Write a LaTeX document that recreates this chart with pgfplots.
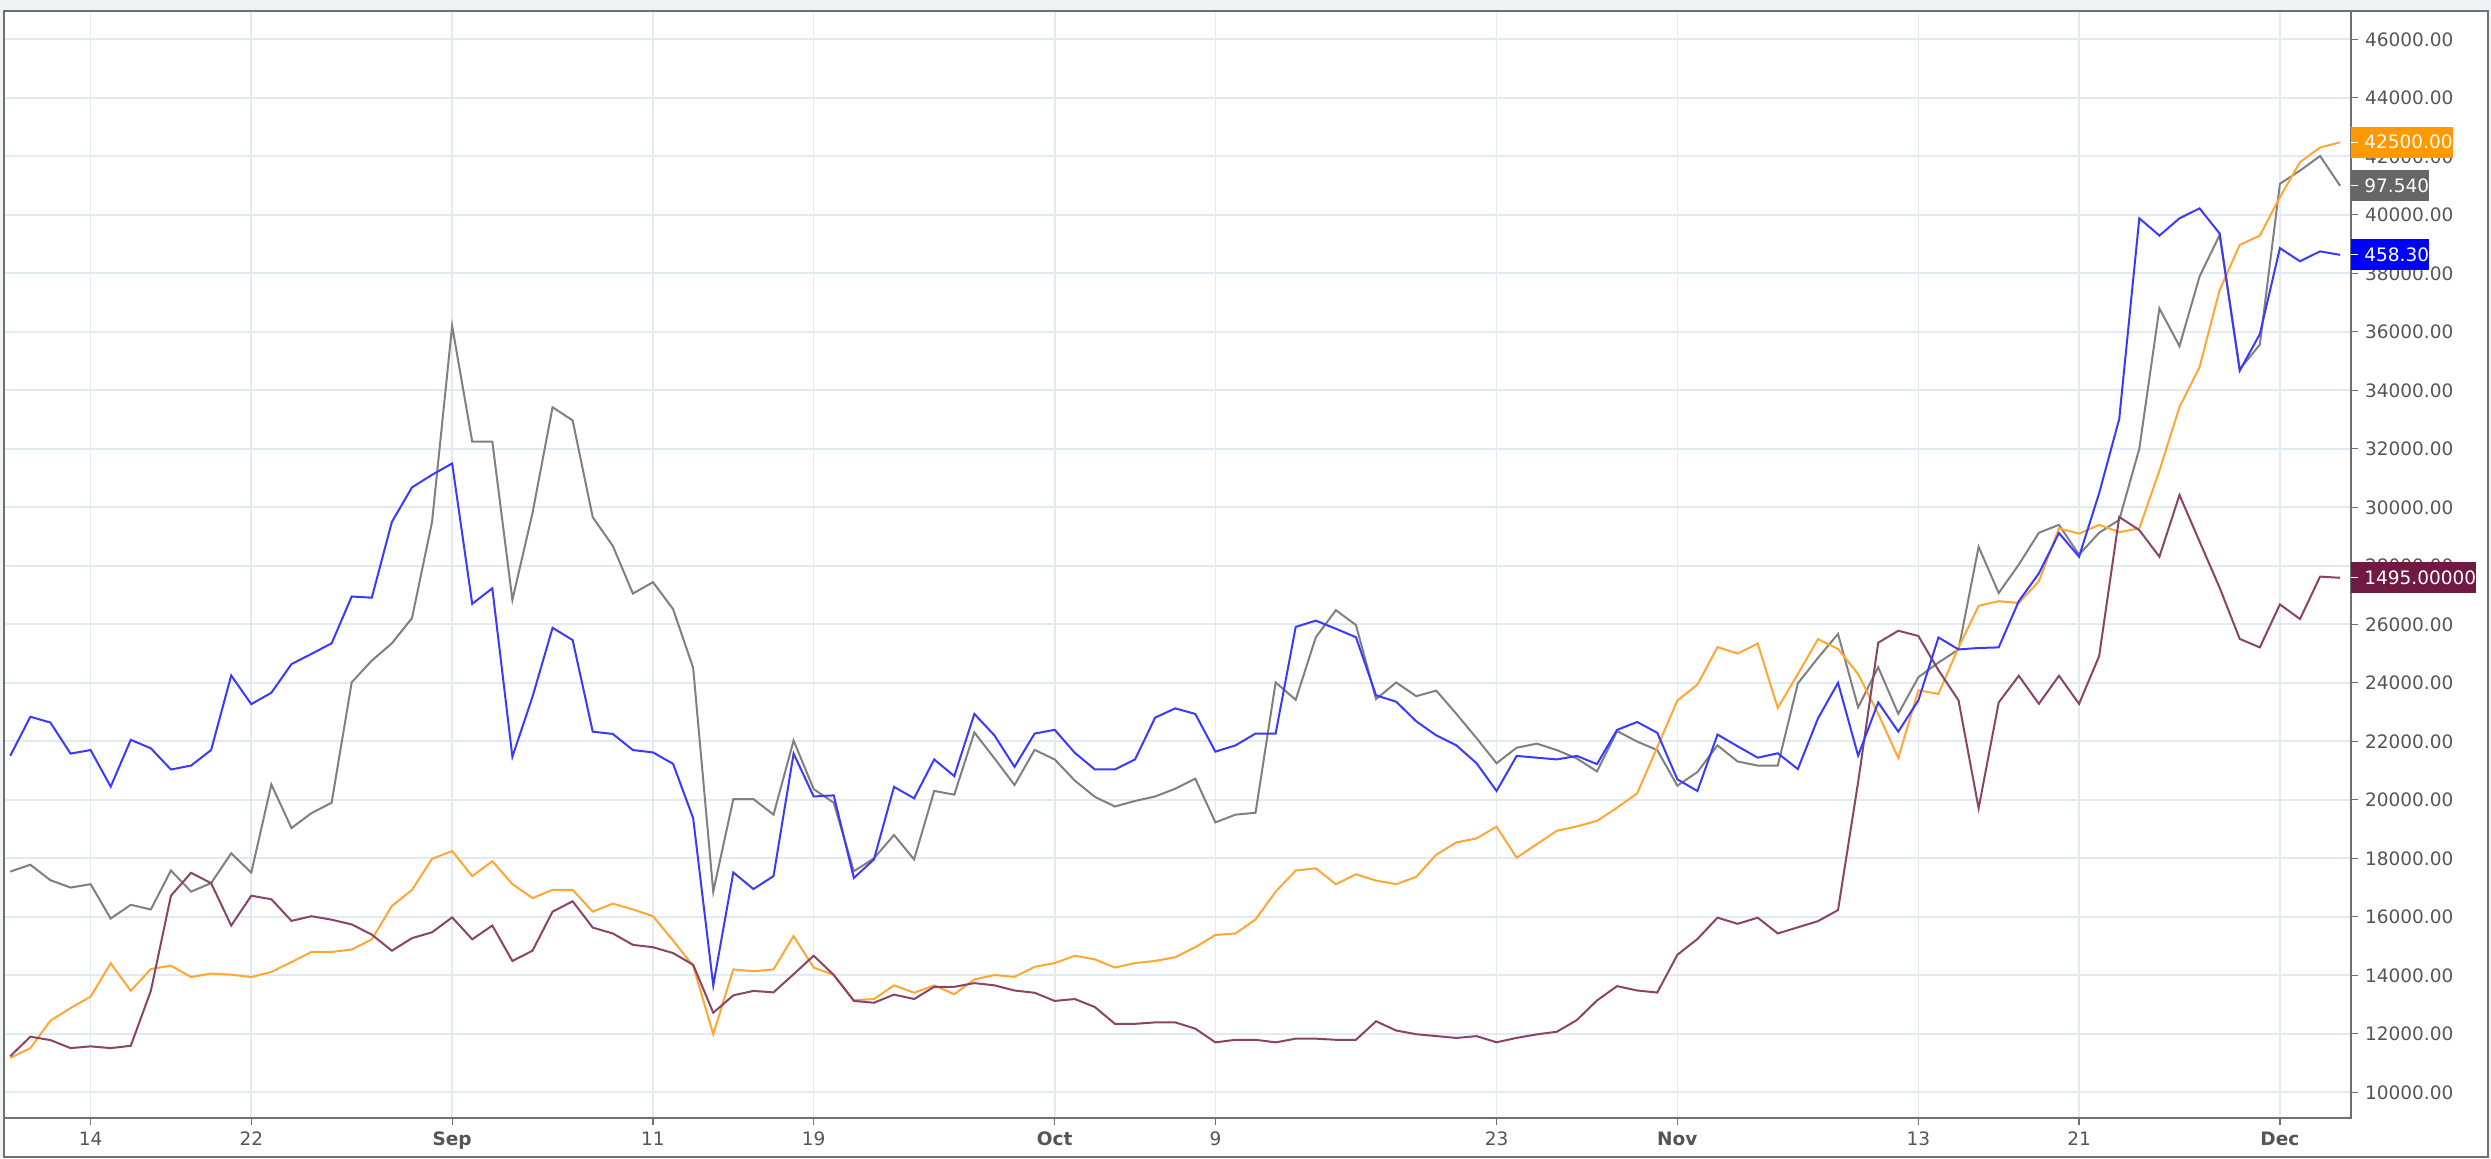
\documentclass[border=0pt]{standalone}
\usepackage{fontspec}
\setmainfont{DejaVu Sans}
\usepackage{pgfplots}
\usepackage{pgfplotstable}
\pgfplotsset{compat=1.18}
\definecolor{cblue}{HTML}{3A3AFF}
\definecolor{cgrey}{HTML}{808080}
\definecolor{corange}{HTML}{FFA733}
\definecolor{cmaroon}{HTML}{8A4468}
\definecolor{gridc}{HTML}{E2EAF2}
\definecolor{framec}{HTML}{707070}
\definecolor{labc}{HTML}{555555}
\definecolor{bgc}{HTML}{F0F3F6}
\definecolor{borange}{HTML}{FF9900}
\definecolor{bgrey}{HTML}{666666}
\definecolor{bblue}{HTML}{0000FF}
\definecolor{bmaroon}{HTML}{701A43}

\pgfplotstableread{
d blue grey orange maroon
9 21505 17546 11176 11235
10 22840 17780 11510 11900
11 22640 17250 12450 11785
12 21580 17000 12880 11510
13 21700 17115 13270 11570
14 20450 15940 14410 11510
15 22050 16410 13470 11590
16 21760 16250 14215 13470
17 21035 17585 14330 16720
18 21170 16860 13940 17505
19 21700 17150 14060 17150
20 24250 18170 14020 15700
21 23270 17510 13940 16720
22 23660 20525 14115 16600
23 24640 19035 14450 15860
24 24990 19545 14800 16020
25 25350 19900 14800 15900
26 26950 24015 14880 15740
27 26910 24760 15230 15390
28 29500 25350 16370 14840
29 30680 26210 16920 15270
30 31110 29500 17980 15470
31 31500 36205 18250 15980
32 26700 32245 17390 15230
33 27230 32245 17900 15700
34 21470 26835 17115 14490
35 23520 29800 16640 14840
36 25880 33420 16920 16175
37 25460 32970 16920 16530
38 22330 29660 16175 15630
39 22250 28680 16450 15430
40 21700 27050 16250 15040
41 21620 27440 16020 14960
42 21230 26520 15190 14760
43 19370 24510 14320 14360
44 13656 16859 11985 12719
45 17517 20024 14201 13314
46 16948 20024 14138 13466
47 17391 19492 14201 13416
48 21581 22024 15340 14036
49 20113 20366 14264 14669
50 20151 19898 14011 14011
51 17328 17556 13150 13124
52 17960 17999 13188 13061
53 20442 18796 13656 13340
54 20050 17961 13403 13188
55 21379 20303 13656 13606
56 20809 20176 13352 13606
57 22936 22303 13858 13732
58 22202 21417 14011 13656
59 21126 20505 13947 13479
60 22265 21708 14289 13403
61 22392 21379 14416 13124
62 21607 20657 14669 13188
63 21037 20100 14543 12915
64 21037 19771 14264 12340
65 21379 19961 14416 12340
66 22809 20113 14492 12390
67 23126 20379 14618 12390
68 22936 20721 14960 12175
69 21645 19227 15378 11707
70 21860 19492 15429 11795
71 22265 19556 15910 11795
72 22265 24012 16859 11707
73 25911 23417 17581 11833
74 26126 25557 17657 11833
75 25847 26481 17113 11795
76 25557 25974 17454 11795
77 23569 23442 17239 12428
78 23354 24012 17113 12112
79 22683 23543 17366 11985
80 22202 23733 18125 11922
81 21860 22936 18543 11858
82 21252 22110 18680 11920
83 20300 21250 19080 11710
84 21500 21780 18020 11860
85 21440 21920 18480 11980
86 21380 21700 18940 12070
87 21500 21410 19090 12470
88 21220 20970 19280 13140
89 22390 22350 19730 13630
90 22660 21990 20220 13480
91 22290 21700 21800 13410
92 20700 20480 23390 14700
93 20300 20950 23940 15240
94 22230 21860 25220 15970
95 21830 21310 25000 15760
96 21440 21170 25340 15970
97 21590 21170 23140 15430
98 21050 23980 24300 15640
99 22780 24850 25490 15850
100 24000 25670 25160 16230
101 21510 23160 24300 20600
102 23330 24530 22940 25370
103 22330 22940 21430 25780
104 23400 24190 23740 25600
105 25550 24690 23620 24430
106 25140 25140 25210 23400
107 25190 28650 26630 19710
108 25210 27070 26790 23330
109 26790 28040 26730 24240
110 27740 29130 27470 23280
111 29120 29400 29280 24240
112 28310 28380 29100 23280
113 30480 29130 29400 24910
114 33020 29570 29150 29670
115 39880 32000 29280 29220
116 39290 36800 31250 28310
117 39880 35510 33430 30420
118 40220 37890 34790 28830
119 39360 39310 37430 27250
120 34670 34720 38970 25500
121 35920 35560 39290 25210
122 38860 41060 40600 26680
123 38410 41510 41800 26180
124 38750 42010 42300 27630
125 38630 40990 42480 27590
}\datatable

\begin{document}
\begin{tikzpicture}
\useasboundingbox (0,0) rectangle (1245.5pt,579pt);
\fill[bgc] (0,0) rectangle (1245.5pt,579pt);
\fill[white] (2pt,0.5pt) rectangle (1244pt,573.5pt);
\begin{axis}[
  at={(2pt,20pt)}, anchor=south west,
  scale only axis, width=1173.5pt, height=553.5pt,
  xmin=8.688, xmax=125.54, ymin=9121, ymax=46968,
  clip=true,
  axis line style={framec, line width=1pt},
  grid=major,
  major grid style={gridc, line width=0.8pt},
  tick align=outside,
  major tick length=3.5pt,
  tick style={framec, line width=0.6pt},
  xtick pos=lower, ytick pos=right, yticklabel pos=right,
  xtick={13,21,31,41,49,61,69,83,92,104,112,122},
  xticklabels={14,22,\textbf{Sep},11,19,\textbf{Oct},9,23,\textbf{Nov},13,21,\textbf{Dec}},
  ytick={10000,12000,...,46000},
  scaled y ticks=false,
  /pgf/number format/assume math mode=true,
  yticklabel style={/pgf/number format/fixed, /pgf/number format/fixed zerofill, /pgf/number format/precision=2, /pgf/number format/1000 sep={}},
  ticklabel style={font=\fontsize{9.25}{11}\selectfont, text=labc},
]
\addplot[cgrey, line width=1pt] table[x=d, y=grey] {\datatable};
\addplot[corange, line width=1pt] table[x=d, y=orange] {\datatable};
\addplot[cmaroon, line width=1pt] table[x=d, y=maroon] {\datatable};
\addplot[cblue, line width=1pt] table[x=d, y=blue] {\datatable};
\coordinate (po) at (axis cs:125.54,42480);
\coordinate (pg) at (axis cs:125.54,40990);
\coordinate (pb) at (axis cs:125.54,38630);
\coordinate (pm) at (axis cs:125.54,27590);
\end{axis}
\draw[framec, line width=1pt] (2pt,0.5pt) rectangle (1244pt,573.5pt);
\begin{scope}[every node/.style={anchor=west, inner xsep=0pt, inner ysep=0pt, minimum height=15.5pt, text=white, font=\fontsize{9.25}{11}\selectfont}]
\node[fill=borange] at (po) {\hspace{6.5pt}42500.00\hspace{4.5pt}};
\node[fill=bgrey] at (pg) {\hspace{6.5pt}97.540\hspace{5pt}};
\node[fill=bblue] at (pb) {\hspace{6.5pt}458.30\hspace{5pt}};
\node[fill=bmaroon] at (pm) {\hspace{6.5pt}1495.00000\hspace{5pt}};
\end{scope}
\foreach \p in {po,pg,pb,pm} {\draw[white, line width=0.6pt] (\p) -- ++(3.5pt,0);}
\end{tikzpicture}
\end{document}
